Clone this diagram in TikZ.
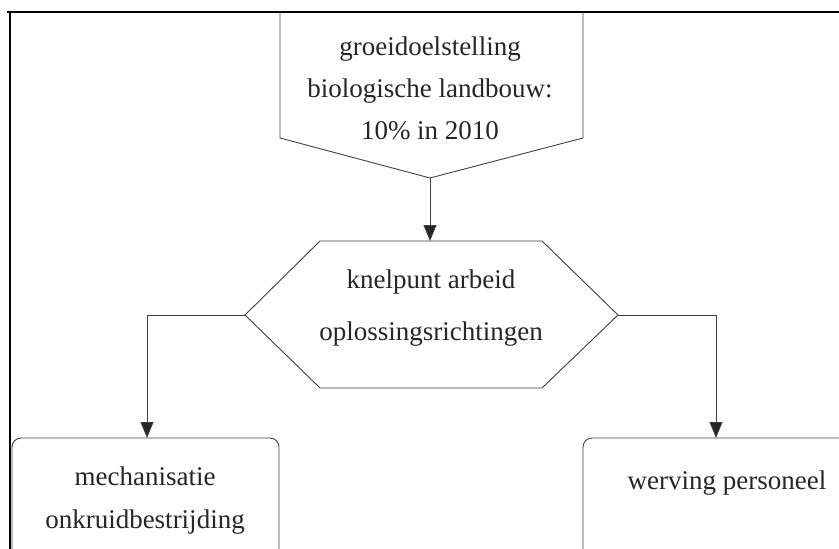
\documentclass[tikz,border=0pt]{standalone}
\usepackage{fontspec}
\setmainfont{Liberation Serif}
\usetikzlibrary{arrows.meta}
\begin{document}
\begin{tikzpicture}[x=1pt,y=-1pt,
  shapeline/.style={draw=black!75,line width=0.9pt},
  frameline/.style={draw=black,line width=2pt},
  conn/.style={draw=black!75,line width=0.9pt,-{Triangle[length=16pt,width=13pt,fill=black!85]}},
  lbl/.style={font=\fontsize{27}{42}\selectfont,align=center,inner sep=0pt,text=black!85}]
\useasboundingbox (0,0) rectangle (839,549);
\clip (0,0) rectangle (839,549);
\fill[white] (0,0) rectangle (839,549);
% frame
\draw[frameline] (7,12) -- (839,12);
\draw[frameline] (10,12) -- (10,549);
% top pentagon
\coordinate (ptip) at (430,178);
\draw[shapeline] (280,12) -- (280,138) -- (ptip) -- (583,138) -- (583,12);
\node[lbl] (goal) at (430,88) {groeidoelstelling\\biologische landbouw:\\10\% in 2010};
% hexagon
\coordinate (htop) at (430,241);
\coordinate (hleft) at (245,315);
\coordinate (hright) at (618,315);
\draw[shapeline] (hleft) -- (320,241) -- (542,241) -- (hright) -- (542,388) -- (320,388) -- cycle;
\node[lbl,font=\fontsize{27}{52}\selectfont] (knel) at (431,308) {knelpunt arbeid\\oplossingsrichtingen};
% bottom boxes
\draw[shapeline,rounded corners=9pt] (12,570) -- (12,438) -- (279,438) -- (279,570);
\draw[shapeline,rounded corners=9pt] (583,570) -- (583,438) -- (880,438) -- (880,570);
\coordinate (lbtop) at (147,438);
\coordinate (rbtop) at (716,438);
\node[lbl,font=\fontsize{27}{43}\selectfont] (mech) at (145,501) {mechanisatie\\onkruidbestrijding};
\node[lbl] (werv) at (727,483) {werving personeel};
% connectors
\draw[conn] (ptip) -- (htop);
\draw[conn] (hleft) -- (lbtop |- hleft) -- (lbtop);
\draw[conn] (hright) -- (rbtop |- hright) -- (rbtop);
\end{tikzpicture}
\end{document}
